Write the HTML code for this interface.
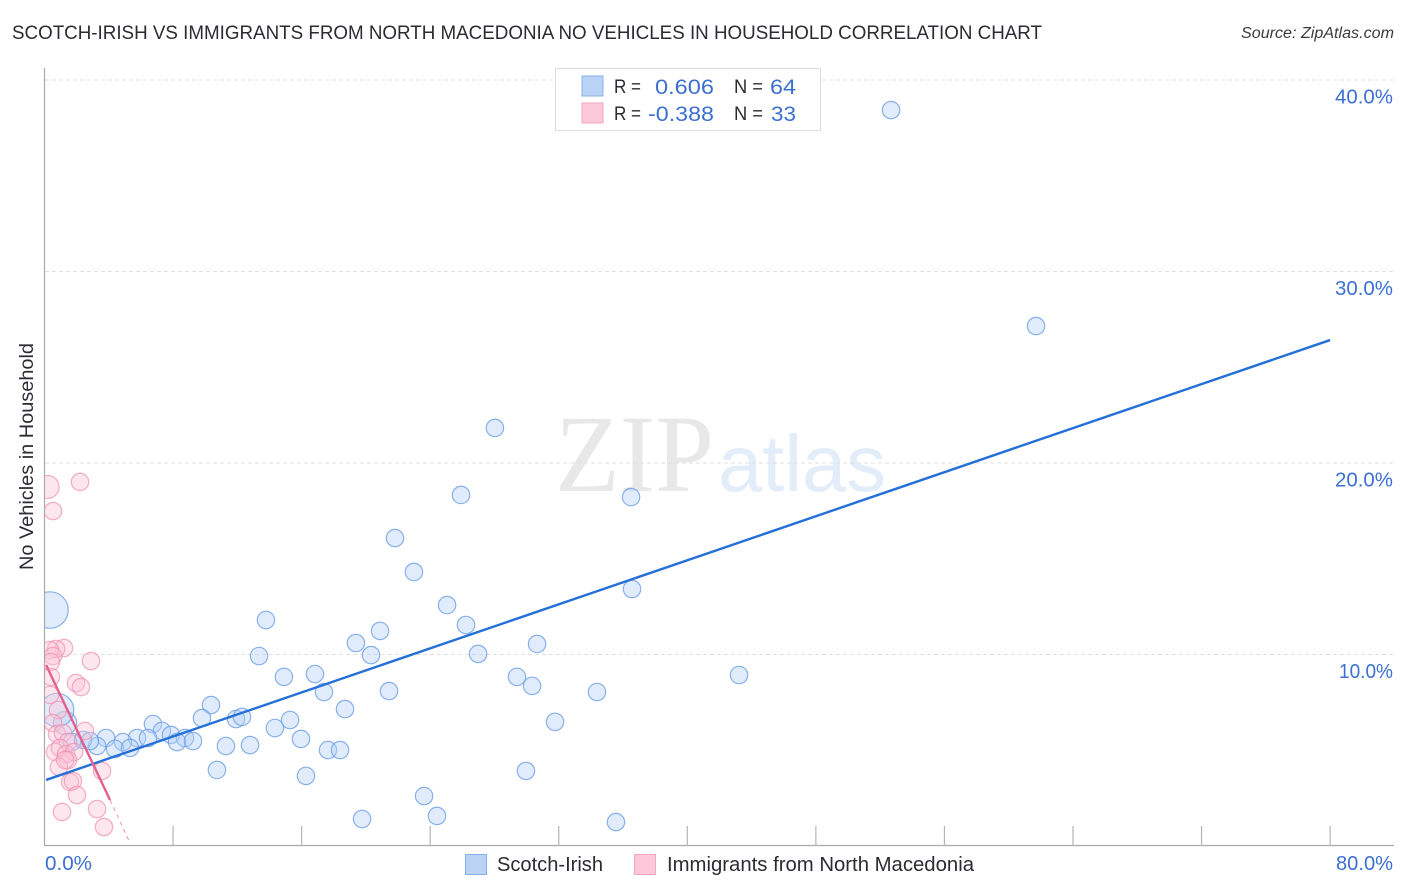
<!DOCTYPE html>
<html lang="en">
<head>
<meta charset="utf-8">
<title>Scotch-Irish vs Immigrants from North Macedonia No Vehicles in Household Correlation Chart</title>
<style>
html,body{margin:0;padding:0;background:#fff;width:1406px;height:892px;overflow:hidden}
svg{display:block;font-family:"Liberation Sans",sans-serif}
</style>
</head>
<body>
<svg id="chart" xmlns="http://www.w3.org/2000/svg" width="1406" height="892" viewBox="0 0 1406 892">
  <defs>
    <clipPath id="plot-clip"><rect x="45" y="60" width="1349" height="786"/></clipPath>
  </defs>
  <text x="12" y="39" font-size="19" fill="#2b2b33" textLength="1030" lengthAdjust="spacingAndGlyphs">SCOTCH-IRISH VS IMMIGRANTS FROM NORTH MACEDONIA NO VEHICLES IN HOUSEHOLD CORRELATION CHART</text>
  <text x="1241" y="38" font-size="15.5" font-style="italic" fill="#3a3a40" textLength="153" lengthAdjust="spacingAndGlyphs">Source: ZipAtlas.com</text>

  <g>
    <text x="555" y="491" font-family="'Liberation Serif',serif" font-size="110" fill="#e8e8e8" textLength="159" lengthAdjust="spacingAndGlyphs">ZIP</text>
    <text x="718" y="491" font-size="80" fill="#e3ecf9" textLength="168" lengthAdjust="spacingAndGlyphs">atlas</text>
  </g>

  <g id="grid"></g>
  <g id="axes"></g>
  <g id="marks" clip-path="url(#plot-clip)"></g>
  <g id="labels"></g>

  <text transform="translate(33,570) rotate(-90)" font-size="19.5" fill="#2b2b33" textLength="227" lengthAdjust="spacingAndGlyphs">No Vehicles in Household</text>

  <g>
    <rect x="555.5" y="68.5" width="265" height="62" fill="#fff" stroke="#dcdcdc"/>
    <rect x="582" y="76" width="21" height="20" fill="#b9d3f7" stroke="#86b0ea"/>
    <rect x="582" y="103" width="21" height="20" fill="#fcc8da" stroke="#f2a5bf"/>
    <text x="614" y="93" font-size="19.5" fill="#2b2b33" textLength="27" lengthAdjust="spacingAndGlyphs">R =</text>
    <text x="655" y="94" font-size="21.5" fill="#3b70d2" textLength="59" lengthAdjust="spacingAndGlyphs">0.606</text>
    <text x="734" y="93" font-size="19.5" fill="#2b2b33" textLength="29" lengthAdjust="spacingAndGlyphs">N =</text>
    <text x="770" y="94" font-size="21.5" fill="#3b70d2" textLength="26" lengthAdjust="spacingAndGlyphs">64</text>
    <text x="614" y="120" font-size="19.5" fill="#2b2b33" textLength="27" lengthAdjust="spacingAndGlyphs">R =</text>
    <text x="648" y="121" font-size="21.5" fill="#3b70d2" textLength="66" lengthAdjust="spacingAndGlyphs">-0.388</text>
    <text x="734" y="120" font-size="19.5" fill="#2b2b33" textLength="29" lengthAdjust="spacingAndGlyphs">N =</text>
    <text x="771" y="121" font-size="21.5" fill="#3b70d2" textLength="25" lengthAdjust="spacingAndGlyphs">33</text>
  </g>

  <g>
    <rect x="465.5" y="854.5" width="21" height="20" fill="#b9d3f7" stroke="#86b0ea"/>
    <text x="497" y="871" font-size="20" fill="#2b2b33" textLength="106" lengthAdjust="spacingAndGlyphs">Scotch-Irish</text>
    <rect x="634.5" y="854.5" width="21" height="20" fill="#fcc8da" stroke="#f2a5bf"/>
    <text x="667" y="871" font-size="20" fill="#2b2b33" textLength="307" lengthAdjust="spacingAndGlyphs">Immigrants from North Macedonia</text>
  </g>
</svg>
<script>
const blueX = [52.68,61.70,28.03,25.92,36.50,21.81,22.99,36.56,25.05,13.78,26.23,20.88,19.38,30.65,13.35,20.32,26.98,16.83,14.90,43.22,29.40,30.34,17.39,21.44,34.38,10.36,18.70,9.80,15.28,11.92,12.29,31.77,14.34,6.75,7.31,7.87,3.83,5.76,6.44,4.88,3.27,4.39,5.32,8.74,8.25,9.24,11.29,12.79,15.96,17.64,18.39,16.27,10.73,29.96,23.62,24.42,19.76,35.56,1.28,1.71,2.40,2.83,0.34,0.78];
const blueY = [38.43,27.15,21.83,18.33,18.22,16.08,14.31,13.42,12.58,11.80,11.54,11.23,10.60,10.55,9.92,9.97,10.03,8.98,8.83,8.93,8.83,8.36,8.04,8.09,8.04,7.36,7.15,6.68,6.58,6.63,6.74,6.48,6.16,6.37,6.01,5.80,5.64,5.64,5.64,5.43,5.22,5.07,5.12,5.64,5.43,5.48,5.22,5.27,5.59,5.01,5.01,3.66,3.97,3.92,2.61,1.57,1.41,1.25,6.42,5.43,5.54,5.48,12.32,7.10];
const blueWeight = [1,1,1,1,1,1,1,1,1,1,1,1,1,1,1,1,1,1,1,1,1,1,1,1,1,1,1,1,1,1,1,1,1,1,1,1,1,1,1,1,1,1,1,1,1,1,1,1,1,1,1,1,1,1,1,1,1,1,1.8,1,1,1,4.4,3.7];
const pinkX = [0.19,2.21,0.53,1.21,0.72,0.34,0.53,0.40,2.89,0.40,1.96,2.27,0.34,0.84,0.53,2.52,0.78,1.15,1.46,0.65,0.96,1.34,1.84,1.46,0.90,1.59,1.77,2.02,3.27,1.09,3.70,3.58,1.28];
const pinkY = [18.75,19.01,17.49,10.34,10.29,10.23,9.92,9.61,9.66,8.83,8.51,8.30,7.89,7.10,6.42,6.01,5.85,5.90,5.43,4.91,5.12,4.80,4.91,4.49,4.13,3.34,3.39,2.66,1.93,1.78,0.99,3.92,4.49];
const pinkWeight = [1.75,1,1,1,1,1,1,1,1,1,1,1,1,1,1,1,1,1,1,1,1,1,1,1,1,1,1,1,1,1,1,1,1];
const blueTrendX = [0.1,80];
const blueTrendY = [3.45,26.42];
const pinkTrendX = [0.1,4.08];
const pinkTrendY = [9.45,2.40];
const pinkDashX = [4.08,5.32];
const pinkDashY = [2.40,0.16];
const yTicks = [10,20,30,40];
const yTickLabels = ["10.0%","20.0%","30.0%","40.0%"];
const xTicks = [0,8,16,24,32,40,48,56,64,72,80];
const xEndTicks = [0,80];
const xEndLabels = ["0.0%","80.0%"];

const NS = 'http://www.w3.org/2000/svg';
const xScale = v => 44.5 + v * 16.07;
const yScale = v => 846 - v * 19.15;
function make(tag, parent, attrs) {
  const el = document.createElementNS(NS, tag);
  for (const k in attrs) el.setAttribute(k, attrs[k]);
  parent.appendChild(el);
  return el;
}
const grid = document.getElementById('grid');
const axes = document.getElementById('axes');
const marks = document.getElementById('marks');
const labels = document.getElementById('labels');

yTicks.forEach(function (t, i) {
  const line = make('line', grid, {x1: 45, x2: 1394, y1: yScale(t), y2: yScale(t), stroke: '#e0e0e0', 'stroke-width': 1, 'stroke-dasharray': '4 3'});
  
  
  const label = make('text', labels, {x: 1393, y: yScale(t) + 23.5, 'font-size': 20, fill: '#3b70d2', 'text-anchor': 'end', textLength: t === 10 ? 54 : 58, lengthAdjust: 'spacingAndGlyphs'});
  label.textContent = yTickLabels[i];
  
  
});

const yAxis = make('line', axes, {x1: 44.5, x2: 44.5, y1: 68, y2: 846, stroke: '#aaaaaa', 'stroke-width': 1.2});


const xAxis = make('line', axes, {x1: 44, x2: 1394, y1: 845.5, y2: 845.5, stroke: '#aaaaaa', 'stroke-width': 1.2});



xTicks.slice(1).forEach(function (t) {
  const tick = make('line', axes, {x1: xScale(t), x2: xScale(t), y1: 826, y2: 846, stroke: '#b4b4b4', 'stroke-width': 1.2});
  
  
});

xEndTicks.forEach(function (t, i) {
  const label = make('text', labels, {x: i === 0 ? 45 : 1336, y: 870, 'font-size': 20, fill: '#3b70d2', textLength: i === 0 ? 47 : 57, lengthAdjust: 'spacingAndGlyphs'});
  label.textContent = xEndLabels[i];
  
  
});

blueX.forEach(function (v, i) {
  const c = make('circle', marks, {cx: xScale(v), cy: yScale(blueY[i]), r: 8.7 * Math.sqrt(blueWeight[i]), fill: '#b5d2f7', 'fill-opacity': 0.42, stroke: '#6d9fe6', 'stroke-opacity': 0.8, 'stroke-width': 1.2});
  
  
});
pinkX.forEach(function (v, i) {
  const c = make('circle', marks, {cx: xScale(v), cy: yScale(pinkY[i]), r: 8.7 * Math.sqrt(pinkWeight[i]), fill: '#fbc3d6', 'fill-opacity': 0.42, stroke: '#f08fae', 'stroke-opacity': 0.72, 'stroke-width': 1.2});
  
  
});

const blueLine = make('line', marks, {x1: xScale(blueTrendX[0]), y1: yScale(blueTrendY[0]), x2: xScale(blueTrendX[1]), y2: yScale(blueTrendY[1]), stroke: '#2470d8', 'stroke-width': 2.4});


const pinkLine = make('line', marks, {x1: xScale(pinkTrendX[0]), y1: yScale(pinkTrendY[0]), x2: xScale(pinkTrendX[1]), y2: yScale(pinkTrendY[1]), stroke: '#e5608c', 'stroke-width': 2.4});


const pinkDash = make('line', marks, {x1: xScale(pinkDashX[0]), y1: yScale(pinkDashY[0]), x2: xScale(pinkDashX[1]), y2: yScale(pinkDashY[1]), stroke: '#ee8fae', 'stroke-width': 1, 'stroke-dasharray': '4 4'});


</script>
</body>
</html>
